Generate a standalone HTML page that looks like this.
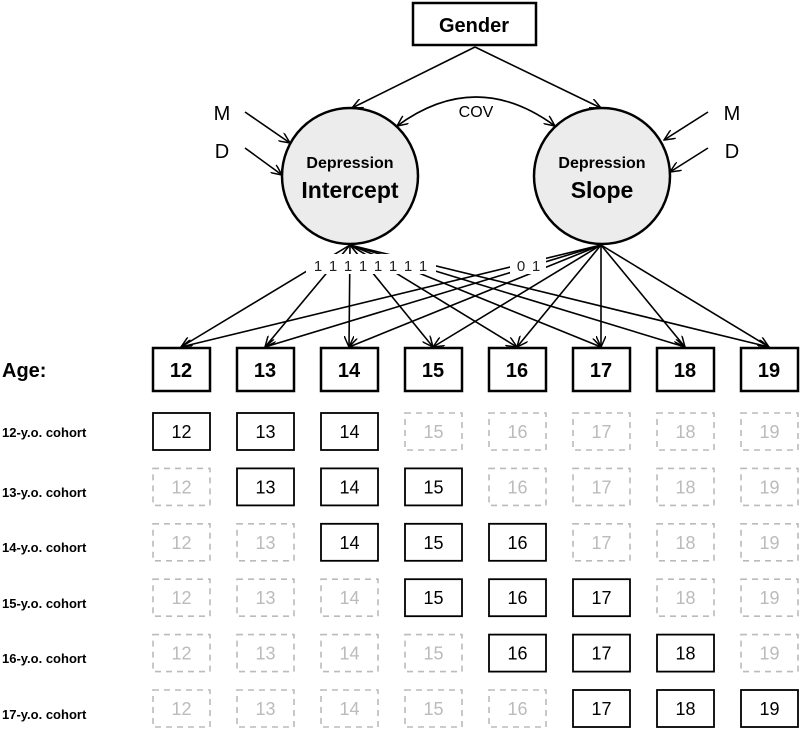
<!DOCTYPE html>
<html><head><style>body{margin:0;background:#fff}svg{display:block}</style></head><body>
<svg width="800" height="738" viewBox="0 0 800 738" xmlns="http://www.w3.org/2000/svg" font-family="Liberation Sans, sans-serif">
<defs><marker id="a" markerWidth="12" markerHeight="10" refX="11" refY="5" orient="auto" markerUnits="userSpaceOnUse"><path d="M0,0 L11,5 L0,10" fill="none" stroke="#000" stroke-width="1.5"/></marker>
<marker id="b" markerWidth="12" markerHeight="10" refX="11" refY="5" orient="auto-start-reverse" markerUnits="userSpaceOnUse"><path d="M0,0 L11,5 L0,10" fill="none" stroke="#000" stroke-width="1.5"/></marker></defs>
<rect x="413" y="3" width="123" height="42" fill="#fff" stroke="#000" stroke-width="2.5"/>
<text x="474" y="32" font-size="20" font-weight="bold" text-anchor="middle">Gender</text>
<g stroke="#000" stroke-width="1.6" fill="none" marker-end="url(#a)">
<line x1="475" y1="47" x2="352" y2="108"/>
<line x1="475" y1="47" x2="601" y2="108"/>
<line x1="245" y1="112" x2="290" y2="143"/>
<line x1="245" y1="148" x2="282" y2="175"/>
<line x1="708" y1="112" x2="664" y2="140"/>
<line x1="708" y1="148" x2="670" y2="172"/>
</g>
<path d="M397,126 Q476,68 555,126" fill="none" stroke="#000" stroke-width="1.6" marker-end="url(#b)" marker-start="url(#b)"/>
<text x="476" y="117" font-size="16" text-anchor="middle">COV</text>
<text x="222" y="120" font-size="20" text-anchor="middle">M</text>
<text x="222" y="158" font-size="20" text-anchor="middle">D</text>
<text x="732" y="120" font-size="20" text-anchor="middle">M</text>
<text x="732" y="158" font-size="20" text-anchor="middle">D</text>
<g stroke="#000" stroke-width="1.6" fill="none" marker-end="url(#a)">
<line x1="350" y1="245" x2="181" y2="347"/><line x1="350" y1="245" x2="265" y2="347"/><line x1="350" y1="245" x2="349" y2="347"/><line x1="350" y1="245" x2="433" y2="347"/><line x1="350" y1="245" x2="517" y2="347"/><line x1="350" y1="245" x2="601" y2="347"/><line x1="350" y1="245" x2="685" y2="347"/><line x1="350" y1="245" x2="769" y2="347"/>
<line x1="601" y1="245" x2="181" y2="347"/><line x1="601" y1="245" x2="265" y2="347"/><line x1="601" y1="245" x2="349" y2="347"/><line x1="601" y1="245" x2="433" y2="347"/><line x1="601" y1="245" x2="517" y2="347"/><line x1="601" y1="245" x2="601" y2="347"/><line x1="601" y1="245" x2="685" y2="347"/><line x1="601" y1="245" x2="769" y2="347"/>
</g>
<rect x="306" y="254" width="130" height="20" fill="#fff"/>
<rect x="510" y="254" width="36" height="20" fill="#fff"/>
<g font-size="15" text-anchor="middle" fill="#222">
<text x="318" y="271">1</text><text x="333" y="271">1</text><text x="348" y="271">1</text><text x="363" y="271">1</text><text x="378" y="271">1</text><text x="393" y="271">1</text><text x="408" y="271">1</text><text x="423" y="271">1</text>
<text x="521" y="271">0</text><text x="536" y="271">1</text>
</g>
<circle cx="350" cy="176" r="68" fill="#ececec" stroke="#000" stroke-width="2.5"/>
<circle cx="602" cy="176" r="68" fill="#ececec" stroke="#000" stroke-width="2.5"/>
<text x="350" y="168" font-size="16" font-weight="bold" text-anchor="middle">Depression</text>
<text x="350" y="198" font-size="23" font-weight="bold" text-anchor="middle">Intercept</text>
<text x="602" y="168" font-size="16" font-weight="bold" text-anchor="middle">Depression</text>
<text x="602" y="198" font-size="23" font-weight="bold" text-anchor="middle">Slope</text>
<text x="2" y="377" font-size="20" font-weight="bold">Age:</text>
<g font-size="20" font-weight="bold" text-anchor="middle">
<g fill="#fff" stroke="#000" stroke-width="2.5">
<rect x="153" y="348" width="57" height="43"/><rect x="237" y="348" width="57" height="43"/><rect x="321" y="348" width="57" height="43"/><rect x="405" y="348" width="57" height="43"/><rect x="489" y="348" width="57" height="43"/><rect x="573" y="348" width="57" height="43"/><rect x="657" y="348" width="57" height="43"/><rect x="741" y="348" width="57" height="43"/>
</g>
<text x="181" y="377">12</text><text x="265" y="377">13</text><text x="349" y="377">14</text><text x="433" y="377">15</text><text x="517" y="377">16</text><text x="601" y="377">17</text><text x="685" y="377">18</text><text x="769" y="377">19</text>
</g>
<g font-size="13" font-weight="bold">
<text x="2" y="437">12-y.o. cohort</text><text x="2" y="497">13-y.o. cohort</text><text x="2" y="552">14-y.o. cohort</text><text x="2" y="608">15-y.o. cohort</text><text x="2" y="663">16-y.o. cohort</text><text x="2" y="719">17-y.o. cohort</text>
</g>
<g id="cells" font-size="18" text-anchor="middle"></g>
<script>
var g=document.getElementById('cells'),ns='http://www.w3.org/2000/svg';
for(var r=0;r<6;r++){var y=413+r*55.4;for(var c=0;c<8;c++){var x=153+c*84;var on=c>=r&&c<=r+2;
var rc=document.createElementNS(ns,'rect');rc.setAttribute('x',x);rc.setAttribute('y',y);rc.setAttribute('width',57);rc.setAttribute('height',37);rc.setAttribute('fill','#fff');
rc.setAttribute('stroke',on?'#000':'#bbb');rc.setAttribute('stroke-width',on?1.8:1.6);if(!on)rc.setAttribute('stroke-dasharray','6,5');g.appendChild(rc);
var t=document.createElementNS(ns,'text');t.setAttribute('x',x+28.5);t.setAttribute('y',y+25);t.setAttribute('fill',on?'#000':'#bbb');t.textContent=12+c;g.appendChild(t);}}
</script>
</svg>
</body></html>
